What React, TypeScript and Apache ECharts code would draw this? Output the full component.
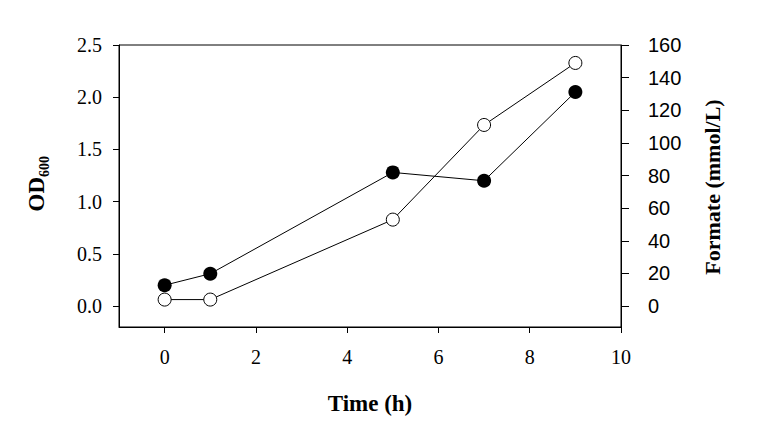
import React, { useEffect, useRef } from "react";
import * as echarts from "echarts";

const timeH = [0, 1, 5, 7, 9];
const od600 = [0.2, 0.31, 1.28, 1.2, 2.05];
const formate = [4, 4, 53, 111, 149];
const xTicks = [0, 2, 4, 6, 8, 10];
const odTicks = [0, 0.5, 1.0, 1.5, 2.0, 2.5];
const formateTicks = [0, 20, 40, 60, 80, 100, 120, 140, 160];

export default function App() {
  const ref = useRef<HTMLDivElement>(null);
  useEffect(() => {
    if (!ref.current) return;
    const chart = echarts.init(ref.current, null, { renderer: "svg" });
    const serif = "'Liberation Serif', 'Times New Roman', serif";
    const sans = "'Liberation Sans', Arial, sans-serif";
    chart.setOption({
      animation: false,
      backgroundColor: "#fff",
      grid: {
        left: 119,
        right: 143,
        top: 45,
        bottom: 98,
        show: true,
        borderColor: "#000",
        borderWidth: 1,
        backgroundColor: "transparent",
      },
      xAxis: {
        type: "value",
        min: -1,
        max: 10,
        axisLine: { show: true, onZero: false, lineStyle: { color: "#000", width: 1 } },
        axisTick: { show: true, inside: false, length: 6, customValues: xTicks, lineStyle: { color: "#000" } },
        axisLabel: {
          customValues: xTicks,
          fontFamily: serif,
          fontSize: 20,
          color: "#000",
          margin: 20,
        },
        splitLine: { show: false },
        name: "Time (h)",
        nameLocation: "middle",
        nameGap: 65,
        nameTextStyle: { fontFamily: serif, fontSize: 23, fontWeight: "bold", color: "#000" },
      },
      yAxis: [
        {
          type: "value",
          position: "left",
          min: -0.2,
          max: 2.5,
          axisLine: { show: true, onZero: false, lineStyle: { color: "#000", width: 1 } },
          axisTick: { show: true, length: 6, customValues: odTicks, lineStyle: { color: "#000" } },
          axisLabel: {
            customValues: odTicks,
            formatter: (v: number) => v.toFixed(1),
            fontFamily: serif,
            fontSize: 20,
            color: "#000",
            margin: 17,
          },
          splitLine: { show: false },
        },
        {
          type: "value",
          position: "right",
          min: -12.8,
          max: 160,
          axisLine: { show: true, onZero: false, lineStyle: { color: "#000", width: 1 } },
          axisTick: { show: true, length: 8, customValues: formateTicks, lineStyle: { color: "#000" } },
          axisLabel: {
            customValues: formateTicks,
            fontFamily: sans,
            fontSize: 20,
            color: "#000",
            margin: 27,
          },
          splitLine: { show: false },
        },
      ],
      graphic: [
        {
          type: "group",
          x: 36,
          y: 186,
          rotation: Math.PI / 2,
          children: [
            {
              type: "text",
              x: 9,
              y: 0,
              style: {
                text: "OD",
                fontFamily: serif,
                fontSize: 23,
                fontWeight: "bold",
                fill: "#000",
                align: "right",
                verticalAlign: "middle",
              },
            },
            {
              type: "text",
              x: 9,
              y: 8,
              style: {
                text: "600",
                fontFamily: serif,
                fontSize: 14,
                fontWeight: "bold",
                fill: "#000",
                align: "left",
                verticalAlign: "middle",
              },
            },
          ],
        },
        {
          type: "group",
          x: 712,
          y: 187,
          rotation: Math.PI / 2,
          children: [
            {
              type: "text",
              x: 0,
              y: 0,
              style: {
                text: "Formate (mmol/L)",
                fontFamily: serif,
                fontSize: 22,
                fontWeight: "bold",
                fill: "#000",
                align: "center",
                verticalAlign: "middle",
              },
            },
          ],
        },
      ],
      series: [
        {
          name: "OD600",
          type: "line",
          xAxisIndex: 0,
          yAxisIndex: 0,
          data: timeH.map((t, i) => [t, od600[i]]),
          symbol: "circle",
          symbolSize: 14,
          itemStyle: { color: "#000" },
          lineStyle: { color: "#000", width: 1 },
          z: 3,
        },
        {
          name: "Formate",
          type: "line",
          xAxisIndex: 0,
          yAxisIndex: 1,
          data: timeH.map((t, i) => [t, formate[i]]),
          symbol: "circle",
          symbolSize: 13,
          itemStyle: { color: "#fff", borderColor: "#000", borderWidth: 1 },
          lineStyle: { color: "#000", width: 1 },
          z: 2,
        },
      ],
    });
    return () => chart.dispose();
  }, []);
  return (
    <div
      ref={ref}
      style={{ position: "fixed", left: 0, top: 0, width: 764, height: 425 }}
    />
  );
}
